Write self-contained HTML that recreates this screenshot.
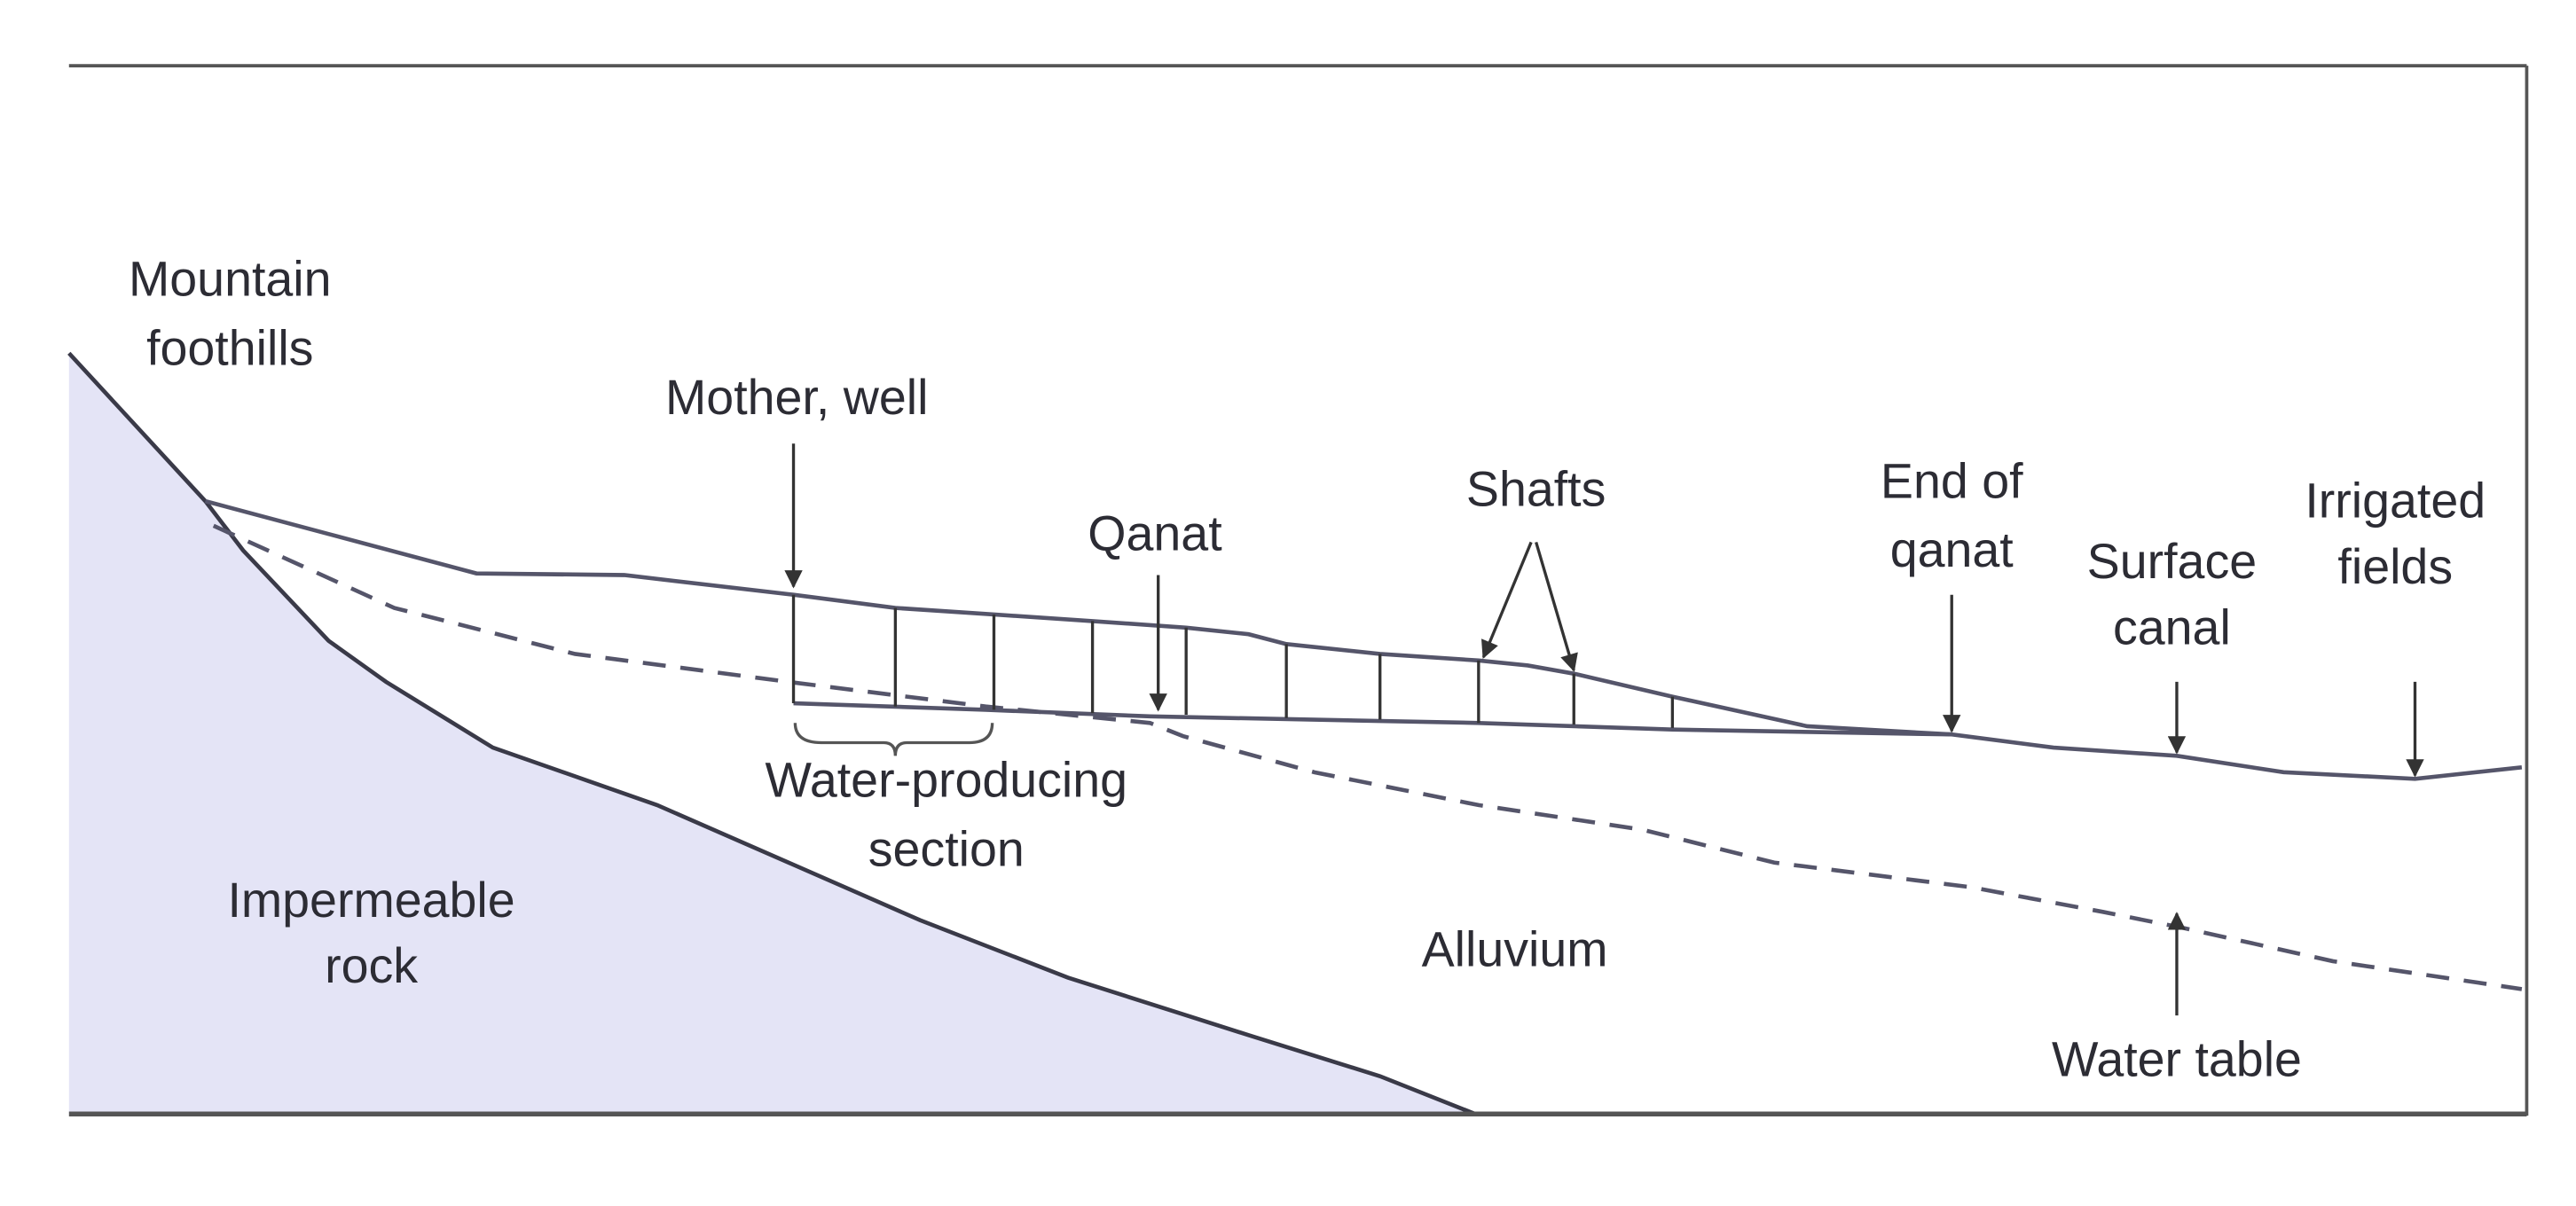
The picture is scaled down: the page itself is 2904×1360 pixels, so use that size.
<!DOCTYPE html>
<html><head><meta charset="utf-8"><style>
html,body{margin:0;padding:0;background:#fff;width:2904px;height:1360px;overflow:hidden}
svg{display:block}
text{font-family:"Liberation Sans",Arial,sans-serif;font-size:30px;fill:#2c2c34;text-anchor:middle}
</style></head><body>
<svg width="2904" height="1360" viewBox="0 0 1568 734" preserveAspectRatio="none">
<defs><marker id="a" viewBox="0 0 10 10" refX="9" refY="5" markerWidth="18" markerHeight="11" orient="auto" markerUnits="userSpaceOnUse"><path d="M0,0 L10,5 L0,10 Z" fill="#333"/></marker></defs>
<path d="M42,215 L125,305 L148,335 L200,390 L235,415 L300,455 L400,490 L480,525 L560,560 L650,595 L760,630 L840,655 L898,678 L42,678 Z" fill="#e4e4f6"/>
<path d="M42,215 L125,305 L148,335 L200,390 L235,415 L300,455 L400,490 L480,525 L560,560 L650,595 L760,630 L840,655 L898,678" fill="none" stroke="#3a3a48" stroke-width="2.5"/>
<line x1="42" y1="40" x2="1538" y2="40" stroke="#555" stroke-width="2"/>
<line x1="1538" y1="40" x2="1538" y2="679" stroke="#555" stroke-width="2"/>
<line x1="42" y1="678" x2="1538" y2="678" stroke="#555" stroke-width="3"/>
<path d="M125,305 L200,325 L290,349 L380,350 L483,362 L545,370 L605,374 L665,378 L722,382 L760,386 L783,392 L840,398 L900,402 L930,405 L958,410 L1018,424 L1100,442 L1188,447 L1250,455 L1325,460 L1390,470 L1470,474 L1535,467" fill="none" stroke="#55556a" stroke-width="2.5"/>
<path d="M130,320 L240,370 L350,398 L480,415 L600,430 L700,440 L720,448 L800,470 L900,490 L1000,505 L1080,525 L1200,540 L1280,555 L1330,565 L1420,585 L1535,602" fill="none" stroke="#55556a" stroke-width="2.5" stroke-dasharray="14,9"/>
<path d="M483,428 L600,432 L700,436 L900,440 L1018,444 L1188,447" fill="none" stroke="#55556a" stroke-width="2.5"/>
<g stroke="#333" stroke-width="1.8">
<line x1="483" y1="362" x2="483" y2="428"/><line x1="545" y1="370" x2="545" y2="430"/><line x1="605" y1="374" x2="605" y2="432"/><line x1="665" y1="378" x2="665" y2="434"/><line x1="722" y1="382" x2="722" y2="435"/><line x1="783" y1="392" x2="783" y2="437"/><line x1="840" y1="398" x2="840" y2="438"/><line x1="900" y1="402" x2="900" y2="440"/><line x1="958" y1="410" x2="958" y2="441"/><line x1="1018" y1="424" x2="1018" y2="443"/>
</g>
<path d="M484,440 Q484,452 500,452 L538,452 Q545,452 545,460 Q545,452 552,452 L590,452 Q604,452 604,440" fill="none" stroke="#555" stroke-width="1.8"/>
<g stroke="#333" stroke-width="1.8" marker-end="url(#a)">
<line x1="483" y1="270" x2="483" y2="357"/>
<line x1="705" y1="350" x2="705" y2="432"/>
<line x1="932" y1="330" x2="903" y2="400"/>
<line x1="935" y1="330" x2="958" y2="408"/>
<line x1="1188" y1="362" x2="1188" y2="445"/>
<line x1="1325" y1="415" x2="1325" y2="458"/>
<line x1="1470" y1="415" x2="1470" y2="472"/>
<line x1="1325" y1="618" x2="1325" y2="556"/>
</g>
<text x="140" y="180">Mountain</text><text x="140" y="222">foothills</text>
<text x="485" y="252">Mother, well</text>
<text x="703" y="335">Qanat</text>
<text x="935" y="308">Shafts</text>
<text x="1188" y="303">End of</text><text x="1188" y="345">qanat</text>
<text x="1322" y="352">Surface</text><text x="1322" y="392">canal</text>
<text x="1458" y="315">Irrigated</text><text x="1458" y="355">fields</text>
<text x="576" y="485">Water-producing</text><text x="576" y="527">section</text>
<text x="226" y="558">Impermeable</text><text x="226" y="598">rock</text>
<text x="922" y="588">Alluvium</text>
<text x="1325" y="655">Water table</text>
</svg>
</body></html>
